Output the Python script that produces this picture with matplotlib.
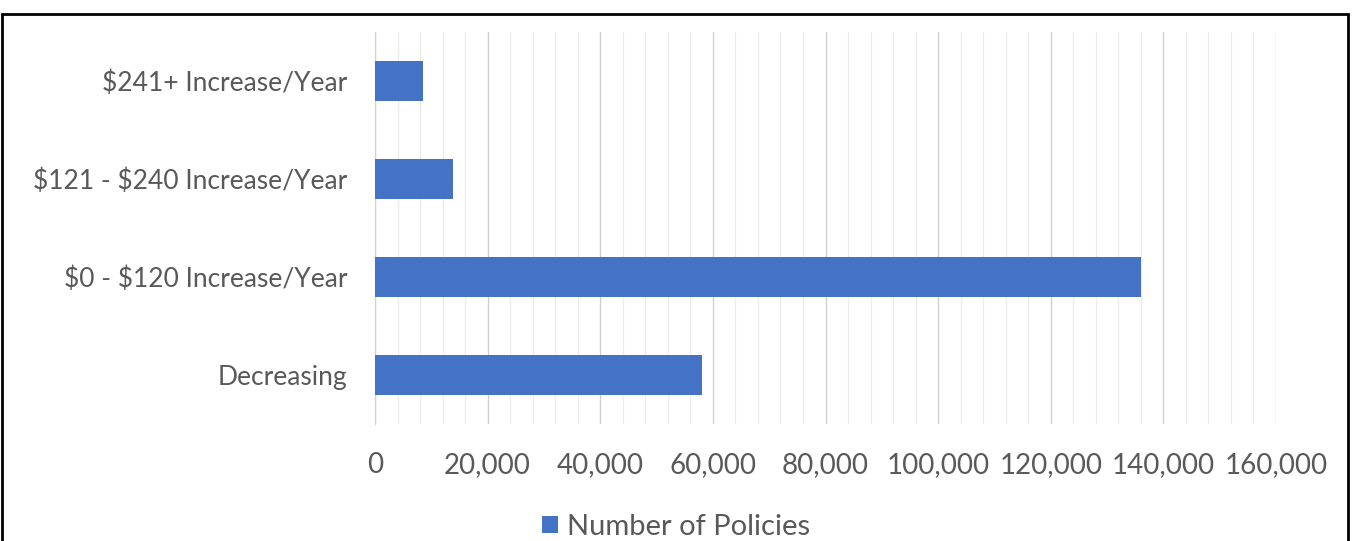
import matplotlib.pyplot as plt
from matplotlib.patches import Rectangle
from matplotlib.ticker import MultipleLocator, FuncFormatter

categories = ["Decreasing", "$0 - $120 Increase/Year",
              "$121 - $240 Increase/Year", "$241+ Increase/Year"]
policies = [58000, 136000, 13800, 8500]
series_name = "Number of Policies"

plt.rcParams['font.family'] = ['Lato', 'DejaVu Sans']

fig = plt.figure(figsize=(13.52, 5.41), dpi=100)
ax = fig.add_axes([0.2774, 0.2163, 0.9438 - 0.2774, 0.9409 - 0.2163])

ax.barh(range(len(categories)), policies, height=0.4, color='#4472C4',
        label=series_name, zorder=3)

ax.set_xlim(0, 160000)
ax.set_ylim(-0.5, len(categories) - 0.5)
ax.set_yticks(range(len(categories)))
ax.set_yticklabels([c.replace('$', r'\$') for c in categories])
ax.xaxis.set_major_locator(MultipleLocator(20000))
ax.xaxis.set_minor_locator(MultipleLocator(4000))
ax.xaxis.set_major_formatter(FuncFormatter(lambda v, p: f"{int(v):,}"))

ax.grid(axis='x', which='major', color='#d0d0d0', lw=1.0, zorder=0)
ax.grid(axis='x', which='minor', color='#ececec', lw=1.0, zorder=0)
for s in ['top', 'right', 'bottom']:
    ax.spines[s].set_visible(False)
ax.spines['left'].set_color('#d0d0d0')
ax.tick_params(axis='both', which='both', length=0, labelcolor='#595959')
ax.tick_params(axis='x', labelsize=20, pad=20)
ax.tick_params(axis='y', labelsize=19, pad=20)

fig.legend(loc='center', bbox_to_anchor=(0.5, 1 - 527 / 541), frameon=False,
           fontsize=21, labelcolor='#595959', handlelength=0.55,
           handleheight=0.55, handletextpad=0.3)

fig.patches.append(Rectangle((2 / 1352, -0.01), 1346 / 1352, 0.997 - 7 / 541,
                             transform=fig.transFigure, fill=False,
                             edgecolor='black', lw=2))

fig.savefig('out.png', dpi=100)
